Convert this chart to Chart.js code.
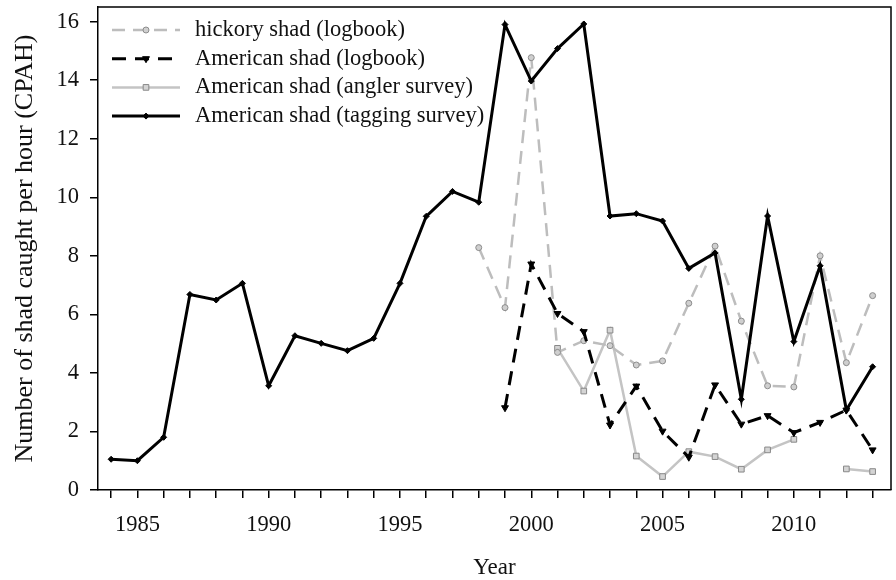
<!DOCTYPE html>
<html>
<head>
<meta charset="utf-8">
<script src="https://cdn.jsdelivr.net/npm/chart.js@4.4.0/dist/chart.umd.min.js"></script>
<style>
  html, body { margin: 0; padding: 0; background: #fff; }
  #wrap { width: 896px; height: 580px; position: relative; }
</style>
</head>
<body>
<div id="wrap"><canvas id="cpahChart"></canvas></div>
<script>
// years of the survey
const years = [1984, 1985, 1986, 1987, 1988, 1989, 1990, 1991, 1992, 1993,
               1994, 1995, 1996, 1997, 1998, 1999, 2000, 2001, 2002, 2003,
               2004, 2005, 2006, 2007, 2008, 2009, 2010, 2011, 2012, 2013];

// catch per angler hour, null where no data
const tagging = [1.05, 1.0, 1.8, 6.68, 6.49, 7.06, 3.56, 5.27, 5.01, 4.76,
                 5.18, 7.06, 9.35, 10.2, 9.83, 15.9, 13.97, 15.08, 15.92, 9.36,
                 9.44, 9.19, 7.57, 8.1, 3.1, 9.36, 5.07, 7.66, 2.73, 4.21];
const hickoryLog = [null, null, null, null, null, null, null, null, null, null,
                    null, null, null, null, 8.28, 6.23, 14.77, 4.7, 5.1, 4.93,
                    4.27, 4.41, 6.38, 8.33, 5.77, 3.56, 3.52, 8.0, 4.35, 6.64];
const americanLog = [null, null, null, null, null, null, null, null, null, null,
                     null, null, null, null, null, 2.81, 7.72, 6.03, 5.41, 2.22,
                     3.55, 2.01, 1.12, 3.59, 2.25, 2.54, 1.96, 2.31, 2.73, 1.37];
const angler = [null, null, null, null, null, null, null, null, null, null,
                null, null, null, null, null, null, null, 4.84, 3.38, 5.46,
                1.16, 0.46, 1.31, 1.14, 0.71, 1.37, 1.73, null, 0.72, 0.63];

const xTickLabels = [1985, 1990, 1995, 2000, 2005, 2010];
const yTicks = [0, 2, 4, 6, 8, 10, 12, 14, 16];

const serif = "'Liberation Serif', 'Times New Roman', serif";

function pts(vals) {
    return years.map((y, i) => ({ x: y, y: vals[i] }));
}

// legend drawn inside the plot, top left, with line sample + marker
const insideLegend = {
    id: 'insideLegend',
    afterDraw(chart) {
        const ctx = chart.ctx;
        const area = chart.chartArea;
        const x0 = area.left + 14, x1 = area.left + 82, xm = area.left + 48;
        chart.data.datasets.forEach((ds, i) => {
            const y = area.top + 23 + i * 28.7;
            ctx.save();
            ctx.strokeStyle = ds.borderColor;
            ctx.lineWidth = ds.borderWidth;
            ctx.setLineDash(ds.borderDash || []);
            ctx.beginPath();
            ctx.moveTo(x0, y);
            ctx.lineTo(x1, y);
            ctx.stroke();
            ctx.setLineDash([]);
            ctx.fillStyle = ds.pointBackgroundColor;
            ctx.strokeStyle = ds.pointBorderColor;
            ctx.lineWidth = ds.pointBorderWidth;
            Chart.helpers.drawPoint(ctx, {
                pointStyle: ds.pointStyle,
                radius: ds.pointRadius,
                rotation: ds.pointRotation || 0,
                borderWidth: ds.pointBorderWidth
            }, xm, y);
            ctx.fillStyle = '#111';
            ctx.font = '22.5px ' + serif;
            ctx.textBaseline = 'middle';
            ctx.textAlign = 'left';
            ctx.fillText(ds.label, area.left + 97, y);
            ctx.restore();
        });
    }
};

// closes the plot box on top and right
const frame = {
    id: 'frame',
    afterDraw(chart) {
        const { ctx, chartArea: a } = chart;
        ctx.save();
        ctx.strokeStyle = '#000';
        ctx.lineWidth = 1.5;
        ctx.beginPath();
        ctx.moveTo(a.left, a.top);
        ctx.lineTo(a.right, a.top);
        ctx.lineTo(a.right, a.bottom);
        ctx.stroke();
        ctx.restore();
    }
};

const ctx = document.getElementById('cpahChart').getContext('2d');

const config = {
    type: 'line',
    data: {
        datasets: [{
            label: 'hickory shad (logbook)',
            data: pts(hickoryLog),
            borderColor: '#bdbdbd',
            borderWidth: 2.5,
            borderDash: [13, 8],
            pointStyle: 'circle',
            pointRadius: 3,
            pointBackgroundColor: '#cfcfcf',
            pointBorderColor: '#8c8c8c',
            pointBorderWidth: 1,
            order: 2
        }, {
            label: 'American shad (logbook)',
            data: pts(americanLog),
            borderColor: '#000',
            borderWidth: 3,
            borderDash: [14, 9],
            pointStyle: 'triangle',
            pointRotation: 180,
            pointRadius: 4,
            pointBackgroundColor: '#000',
            pointBorderColor: '#000',
            pointBorderWidth: 1,
            order: 1
        }, {
            label: 'American shad (angler survey)',
            data: pts(angler),
            borderColor: '#c4c4c4',
            borderWidth: 2.5,
            pointStyle: 'rect',
            pointRadius: 4,
            pointBackgroundColor: '#d4d4d4',
            pointBorderColor: '#888',
            pointBorderWidth: 1,
            spanGaps: false,
            order: 3
        }, {
            label: 'American shad (tagging survey)',
            data: pts(tagging),
            borderColor: '#000',
            borderWidth: 3,
            pointStyle: 'rectRot',
            pointRadius: 3,
            pointBackgroundColor: '#000',
            pointBorderColor: '#000',
            pointBorderWidth: 1,
            order: 0
        }]
    },
    options: {
        responsive: true,
        maintainAspectRatio: false,
        animation: false,
        layout: { padding: { left: 0, right: 3, top: 7, bottom: 0 } },
        plugins: {
            legend: { display: false },
            tooltip: { enabled: false }
        },
        elements: { line: { tension: 0 } },
        scales: {
            x: {
                type: 'linear',
                min: 1983.5,
                max: 2013.7,
                afterBuildTicks: s => { s.ticks = years.map(v => ({ value: v })); },
                afterFit: s => { s.height = 90; s.paddingLeft = 0; s.paddingRight = 0; },
                ticks: {
                    autoSkip: false,
                    maxRotation: 0,
                    padding: 14,
                    color: '#111',
                    font: { family: serif, size: 22.5 },
                    callback: v => xTickLabels.includes(v) ? String(v) : ''
                },
                grid: { drawOnChartArea: false, tickLength: 8, color: '#000', lineWidth: 1.5 },
                border: { color: '#000', width: 1.5 },
                title: {
                    display: true,
                    text: 'Year',
                    color: '#111',
                    font: { family: serif, size: 23 },
                    padding: { top: 0, bottom: -2 }
                }
            },
            y: {
                min: 0,
                max: 16.5,
                afterBuildTicks: s => { s.ticks = yTicks.map(v => ({ value: v })); },
                afterFit: s => { s.width = 98; s.paddingTop = 0; s.paddingBottom = 0; },
                ticks: {
                    padding: 11,
                    color: '#111',
                    font: { family: serif, size: 22.5 }
                },
                grid: { drawOnChartArea: false, tickLength: 8, color: '#000', lineWidth: 1.5 },
                border: { color: '#000', width: 1.5 },
                title: {
                    display: true,
                    text: 'Number of shad caught per hour (CPAH)',
                    color: '#111',
                    font: { family: serif, size: 26 },
                    padding: { top: 10, bottom: 0 }
                }
            }
        }
    },
    plugins: [insideLegend, frame]
};

const cpahChart = new Chart(ctx, config);
</script>
</body>
</html>
